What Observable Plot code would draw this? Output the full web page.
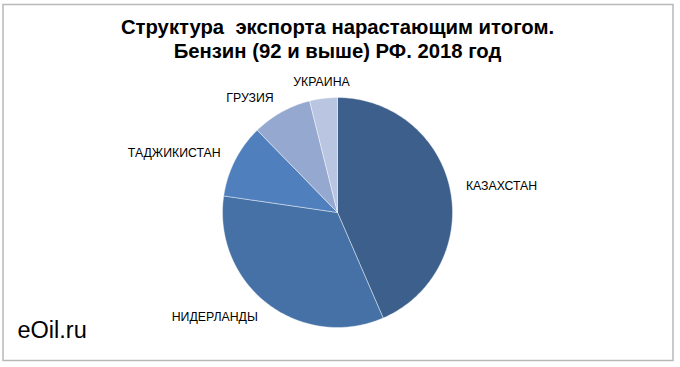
<!DOCTYPE html>
<html>
<head>
<meta charset="utf-8">
<script src="https://cdn.jsdelivr.net/npm/d3@7"></script>
<script src="https://cdn.jsdelivr.net/npm/@observablehq/plot@0.6"></script>
<style>
  html, body { margin: 0; padding: 0; background: #fff; }
  #chart svg { display: block; font-family: Arial, "Liberation Sans", sans-serif; }
</style>
</head>
<body>
<div id="chart"></div>
<script>
// Data, clockwise from 12 o'clock
const countries = ["КАЗАХСТАН", "НИДЕРЛАНДЫ", "ТАДЖИКИСТАН", "ГРУЗИЯ", "УКРАИНА"];
const shares = [43.5, 33.8, 10.4, 8.4, 3.9];
const colors = ["#3C5F8C", "#4571A6", "#4F80BD", "#95A8CF", "#B9C5E1"];
const titleLines = ["Структура\u00a0 экспорта нарастающим итогом.", "Бензин (92 и выше) РФ. 2018 год"];
const watermark = "eOil.ru";

const W = 680, H = 367;
const cx = 337, cy = 212, R = 115; // pixel layout of the pie

const rows = countries.map((c, i) => ({country: c, value: shares[i]}));
const arcs = d3.pie().sort(null).value(d => d.value)(rows);

// polygon points for each slice (unit radius, y up)
const slicePts = [];
for (const a of arcs) {
  const steps = Math.max(2, Math.ceil((a.endAngle - a.startAngle) / (Math.PI / 180)));
  slicePts.push({country: a.data.country, x: 0, y: 0});
  for (let k = 0; k <= steps; k++) {
    const t = a.startAngle + (a.endAngle - a.startAngle) * k / steps;
    slicePts.push({country: a.data.country, x: Math.sin(t), y: Math.cos(t)});
  }
  slicePts.push({country: a.data.country, x: 0, y: 0});
}

// outside labels
const labelR = 1.14;
const labels = arcs.map(a => {
  const m = (a.startAngle + a.endAngle) / 2;
  const s = Math.sin(m);
  return {
    country: a.data.country,
    x: labelR * s,
    y: labelR * Math.cos(m),
    anchor: s > 0.3 ? "start" : s < -0.3 ? "end" : "middle"
  };
});

const xDomain = [-cx / R, (W - cx) / R];
const yDomain = [-(H - cy) / R, cy / R];

const chart = Plot.plot({
  width: W,
  height: H,
  margin: 0,
  x: {domain: xDomain, axis: null},
  y: {domain: yDomain, axis: null},
  color: {domain: countries, range: colors},
  style: {fontFamily: "Arial, 'Liberation Sans', sans-serif", background: "#fff"},
  marks: [
    Plot.frame({stroke: "#b8b8b8", strokeWidth: 1.5, insetLeft: 2.5, insetRight: 7.5, insetTop: 4, insetBottom: 7}),
    Plot.line(slicePts, {x: "x", y: "y", z: "country", fill: "country", stroke: "#ffffff", strokeWidth: 0.6, strokeOpacity: 0.7}),
    ...["start", "end", "middle"].map(anc =>
      Plot.text(labels.filter(d => d.anchor === anc), {
        x: "x", y: "y", text: "country", textAnchor: anc,
        fontSize: 12.3, fill: "#000"
      })
    ),
    Plot.text([titleLines.join("\n")], {
      frameAnchor: "top", dx: -3, dy: 17, lineAnchor: "top", lineHeight: 1.17,
      fontSize: 20.3, fontWeight: "bold", fill: "#000"
    }),
    Plot.text([watermark], {
      frameAnchor: "bottom-left", dx: 17, dy: -30, textAnchor: "start",
      fontSize: 23.5, fill: "#000"
    })
  ]
});
document.getElementById("chart").append(chart);
</script>
</body>
</html>
